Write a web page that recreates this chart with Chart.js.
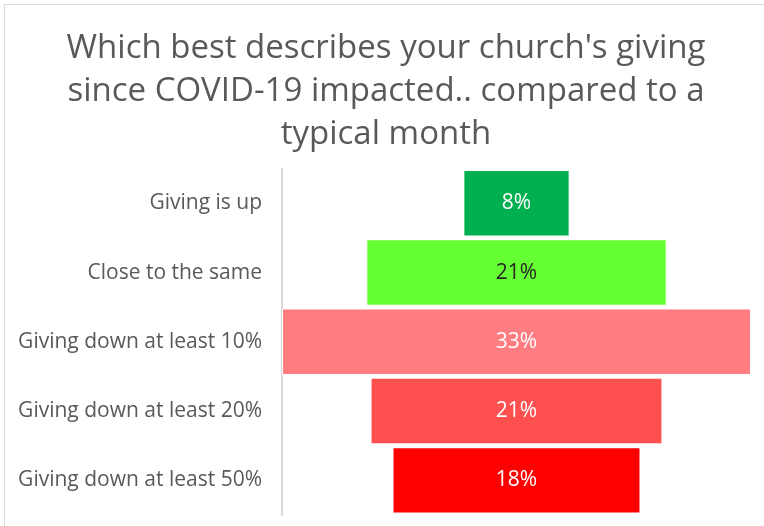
<!DOCTYPE html>
<html>
<head>
<meta charset="utf-8">
<script src="https://cdn.jsdelivr.net/npm/chart.js@4.4.0/dist/chart.umd.min.js"></script>
<style>
  html, body { margin: 0; padding: 0; background: #fff; overflow: hidden; }
  #frame { position: absolute; left: 4px; top: 4px; width: 760px; height: 522px; box-sizing: border-box;
           border-left: 1px solid #d9d9d9; border-top: 1px solid #d9d9d9; }
  #wrap { position: absolute; left: 0; top: 0; width: 764px; height: 526px; }
</style>
</head>
<body>
<div id="frame"></div>
<div id="wrap"><canvas id="chart"></canvas></div>
<script>
const titleLines = ["Which best describes your church's giving", "since COVID-19 impacted.. compared to a", "typical month"];
const categories = ['Giving is up', 'Close to the same', 'Giving down at least 10%', 'Giving down at least 20%', 'Giving down at least 50%'];
const shares = [7.5, 21.2, 33.1, 20.6, 17.5];
const barColors = ['#00B050', '#66FF33', '#FF7C80', '#FF5050', '#FF0000'];
const labelColors = ['#ffffff', '#262626', '#ffffff', '#ffffff', '#ffffff'];

const fontName = "'Open Sans', sans-serif";
const widest = Math.max(...shares);
const mid = widest / 2;
// funnel: each bar centred on the middle of the axis
const spans = shares.map(v => [mid - v / 2, mid + v / 2]);

const barLabels = {
    id: 'barLabels',
    afterLayout(chart) {
        // title sits a bit right of the canvas centre in the original
        chart.titleBlock.left += 21;
    },
    afterDatasetsDraw(chart) {
        const ctx = chart.ctx;
        const meta = chart.getDatasetMeta(0);
        ctx.save();
        ctx.font = "21px " + fontName;
        ctx.textAlign = 'center';
        ctx.textBaseline = 'middle';
        meta.data.forEach((bar, i) => {
            const p = bar.getProps(['x', 'y', 'base']);
            ctx.fillStyle = labelColors[i];
            ctx.fillText(Math.round(shares[i]) + '%', (p.x + p.base) / 2, p.y);
        });
        ctx.restore();
    }
};

const ctx = document.getElementById('chart');
new Chart(ctx, {
    type: 'bar',
    data: {
        labels: categories,
        datasets: [{
            data: spans,
            backgroundColor: barColors,
            borderColor: '#ffffff',
            borderWidth: 1,
            borderSkipped: false,
            categoryPercentage: 1,
            barPercentage: 0.96
        }]
    },
    options: {
        indexAxis: 'y',
        responsive: true,
        maintainAspectRatio: false,
        animation: false,
        layout: { padding: { top: 27, right: 13, bottom: 11, left: 0 } },
        plugins: {
            legend: { display: false },
            tooltip: { enabled: false },
            title: {
                display: true,
                text: titleLines,
                color: '#595959',
                font: { family: fontName, size: 33, weight: 'normal', lineHeight: 1.3 },
                padding: { top: 0, bottom: 13 }
            }
        },
        scales: {
            x: { display: false, min: 0, max: widest },
            y: {
                grid: { display: false, drawTicks: false },
                border: { display: true, color: '#d9d9d9', width: 2 },
                ticks: { color: '#595959', padding: 20, font: { family: fontName, size: 21 } },
                afterFit(scale) {
                    scale.width = 282;
                    scale.paddingTop = 0;
                    scale.paddingBottom = 0;
                }
            }
        }
    },
    plugins: [barLabels]
});
</script>
</body>
</html>
